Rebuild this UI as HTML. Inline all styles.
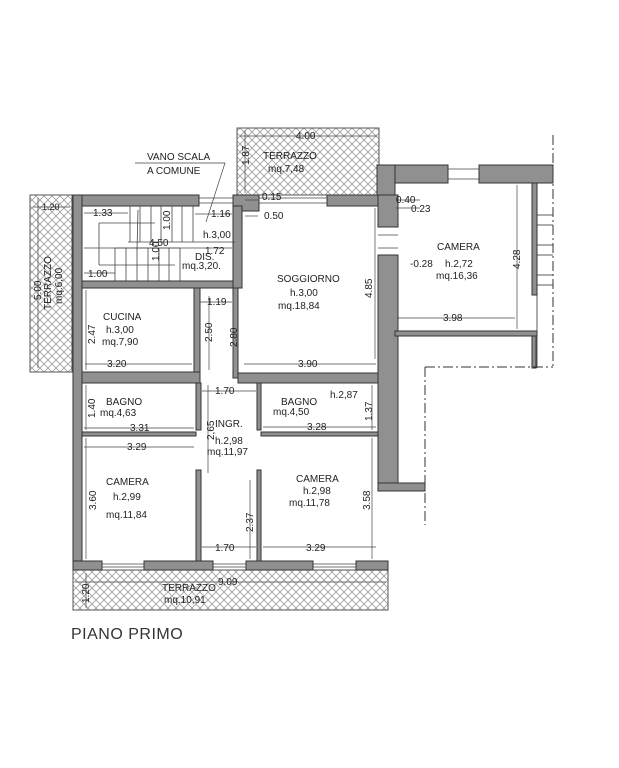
<!DOCTYPE html>
<html><head><meta charset="utf-8"><style>
html,body{margin:0;padding:0;background:#fff;}
svg{display:block;font-family:"Liberation Sans",sans-serif;}
.t{font-size:10px;fill:#222;}
.w{fill:#909090;stroke:#333;stroke-width:1;}
.d{stroke:#444;stroke-width:0.7;fill:none;}
.h{fill:url(#hb);stroke:#555;stroke-width:1;}
</style></head><body>
<svg width="619" height="768" viewBox="0 0 619 768" xmlns="http://www.w3.org/2000/svg">
<defs>
<pattern id="hb" width="8" height="8" patternUnits="userSpaceOnUse">
<path d="M0 8 L4 4 L0 0 M4 4 L8 8 M4 4 L8 0" stroke="#999" stroke-width="0.8" fill="none"/>
</pattern>
</defs>
<rect width="619" height="768" fill="#fff"/>
<rect class="h" x="237" y="128" width="142" height="67"/>
<rect class="h" x="30" y="195" width="42" height="177"/>
<rect class="h" x="73" y="570" width="315" height="40"/>
<rect class="w" x="73" y="195" width="126" height="11"/>
<rect class="w" x="233" y="195" width="26" height="16"/>
<rect class="w" x="327" y="195" width="52" height="11"/>
<rect class="w" x="73" y="195" width="9" height="375"/>
<rect class="w" x="378" y="195" width="20" height="32"/>
<rect class="w" x="378" y="255" width="20" height="235"/>
<rect class="w" x="377" y="165" width="18" height="30"/>
<rect class="w" x="73" y="561" width="29" height="9"/>
<rect class="w" x="144" y="561" width="69" height="9"/>
<rect class="w" x="246" y="561" width="67" height="9"/>
<rect class="w" x="356" y="561" width="32" height="9"/>
<rect class="w" x="378" y="483" width="47" height="8"/>
<g stroke="#444" stroke-width="0.8">
<line x1="199" y1="198" x2="233" y2="198"/><line x1="199" y1="203" x2="233" y2="203"/>
<line x1="259" y1="198" x2="327" y2="198"/><line x1="259" y1="203" x2="327" y2="203"/>
<line x1="102" y1="564" x2="144" y2="564"/><line x1="102" y1="567" x2="144" y2="567"/>
<line x1="213" y1="564" x2="246" y2="564"/><line x1="213" y1="567" x2="246" y2="567"/>
<line x1="313" y1="564" x2="356" y2="564"/><line x1="313" y1="567" x2="356" y2="567"/>
<line x1="448" y1="169" x2="479" y2="169"/><line x1="448" y1="179" x2="479" y2="179"/>
<line x1="378" y1="235" x2="398" y2="235"/><line x1="378" y1="248" x2="398" y2="248"/>
</g>
<rect class="w" x="82" y="281" width="160" height="7"/>
<rect class="w" x="233" y="206" width="9" height="82"/>
<rect class="w" x="233" y="288" width="5" height="90" />
<rect class="w" x="194" y="288" width="6" height="84"/>
<rect class="w" x="82" y="372" width="118" height="11"/>
<rect class="w" x="238" y="373" width="140" height="10"/>
<rect class="w" x="196" y="383" width="5" height="47"/>
<rect class="w" x="257" y="383" width="4" height="47"/>
<rect class="w" x="196" y="470" width="5" height="91"/>
<rect class="w" x="257" y="470" width="4" height="91"/>
<rect class="w" x="82" y="432" width="114" height="4"/>
<rect class="w" x="261" y="432" width="117" height="4"/>
<rect class="w" x="395" y="165" width="53" height="18"/>
<rect class="w" x="479" y="165" width="74" height="18"/>
<rect class="w" x="532" y="183" width="5" height="112"/>
<rect class="w" x="395" y="331" width="142" height="5"/>
<rect class="w" x="532" y="336" width="4" height="32"/>
<g stroke="#333" stroke-width="0.8">
<line x1="537" y1="215" x2="553" y2="215"/><line x1="537" y1="225" x2="553" y2="225"/>
<line x1="537" y1="245" x2="553" y2="245"/><line x1="537" y1="255" x2="553" y2="255"/>
<line x1="537" y1="275" x2="553" y2="275"/><line x1="537" y1="285" x2="553" y2="285"/>
<line x1="537" y1="183" x2="537" y2="368"/>
</g>
<g stroke="#333" stroke-width="1" stroke-dasharray="10,3,2,3" fill="none">
<line x1="553" y1="135" x2="553" y2="368"/>
<line x1="425" y1="367" x2="553" y2="367"/>
<line x1="425" y1="367" x2="425" y2="525"/>
</g>
<g stroke="#444" stroke-width="0.8">
<line x1="130" y1="206" x2="130" y2="242"/><line x1="140" y1="206" x2="140" y2="242"/>
<line x1="151" y1="206" x2="151" y2="242"/><line x1="161" y1="206" x2="161" y2="242"/>
<line x1="172" y1="206" x2="172" y2="242"/><line x1="182" y1="206" x2="182" y2="242"/>
<line x1="193" y1="206" x2="193" y2="242"/>
<line x1="128" y1="242" x2="235" y2="242"/>
<line x1="115" y1="248" x2="115" y2="281"/><line x1="126" y1="248" x2="126" y2="281"/>
<line x1="137" y1="248" x2="137" y2="281"/><line x1="148" y1="248" x2="148" y2="281"/>
<line x1="159" y1="248" x2="159" y2="281"/><line x1="169" y1="248" x2="169" y2="281"/>
<line x1="180" y1="248" x2="180" y2="281"/><line x1="115" y1="248" x2="180" y2="248"/>
<line x1="99" y1="223" x2="99" y2="265"/><line x1="99" y1="223" x2="155" y2="223"/>
<line x1="99" y1="265" x2="175" y2="265"/>
<line x1="137" y1="250" x2="138" y2="210"/>
</g>
<polyline class="d" points="135,163 225,163 206,222"/>
<g class="d">
<line x1="240" y1="136" x2="377" y2="136"/><line x1="245" y1="130" x2="245" y2="193"/>
<line x1="33" y1="207" x2="70" y2="207"/><line x1="38" y1="198" x2="38" y2="368"/>
<line x1="84" y1="213" x2="128" y2="213"/><line x1="195" y1="214" x2="232" y2="214"/>
<line x1="84" y1="273" x2="115" y2="273"/><line x1="84" y1="248" x2="232" y2="248"/>
<line x1="245" y1="216" x2="258" y2="216"/><line x1="245" y1="200" x2="258" y2="200"/>
<line x1="200" y1="302" x2="232" y2="302"/><line x1="209" y1="296" x2="209" y2="370"/>
<line x1="233" y1="296" x2="233" y2="370"/>
<line x1="244" y1="364" x2="376" y2="364"/><line x1="375" y1="208" x2="375" y2="359"/>
<line x1="85" y1="364" x2="192" y2="364"/><line x1="86" y1="290" x2="86" y2="370"/>
<line x1="202" y1="391" x2="256" y2="391"/>
<line x1="84" y1="428" x2="194" y2="428"/><line x1="84" y1="447" x2="194" y2="447"/>
<line x1="86" y1="385" x2="86" y2="430"/>
<line x1="263" y1="427" x2="376" y2="427"/><line x1="372" y1="385" x2="372" y2="430"/>
<line x1="208" y1="385" x2="208" y2="473"/>
<line x1="86" y1="438" x2="86" y2="559"/><line x1="372" y1="438" x2="372" y2="559"/>
<line x1="250" y1="480" x2="250" y2="559"/>
<line x1="202" y1="547" x2="256" y2="547"/><line x1="263" y1="547" x2="376" y2="547"/>
<line x1="75" y1="582" x2="386" y2="582"/><line x1="86" y1="573" x2="86" y2="608"/>
<line x1="397" y1="318" x2="515" y2="318"/><line x1="517" y1="185" x2="517" y2="329"/>
<line x1="396" y1="208" x2="420" y2="208"/><line x1="396" y1="200" x2="420" y2="200"/>
</g>
<g class="t">
<text x="147" y="160">VANO SCALA</text><text x="147" y="174">A COMUNE</text>
<text x="296" y="139">4.00</text>
<text x="263" y="159">TERRAZZO</text><text x="268" y="172">mq.7,48</text>
<text x="42" y="210" font-size="9">1.20</text>
<text x="93" y="216">1.33</text><text x="211" y="217">1.16</text>
<text x="203" y="238">h.3,00</text><text x="149" y="246">4.50</text>
<text x="205" y="254">1.72</text><text x="195" y="260">DIS.</text>
<text x="182" y="269">mq.3,20.</text><text x="88" y="277">1.00</text>
<text x="262" y="200">0.15</text><text x="264" y="219">0.50</text>
<text x="277" y="282">SOGGIORNO</text><text x="290" y="296">h.3,00</text><text x="278" y="309">mq.18,84</text>
<text x="298" y="367">3.90</text><text x="207" y="305">1.19</text>
<text x="103" y="320">CUCINA</text><text x="106" y="333">h.3,00</text><text x="102" y="345">mq.7,90</text>
<text x="107" y="367">3.20</text>
<text x="215" y="394">1.70</text>
<text x="106" y="405">BAGNO</text><text x="100" y="416">mq.4,63</text>
<text x="130" y="431">3.31</text><text x="127" y="450">3.29</text>
<text x="281" y="405">BAGNO</text><text x="330" y="398">h.2,87</text><text x="273" y="415">mq.4,50</text>
<text x="307" y="430">3.28</text>
<text x="215" y="427">INGR.</text><text x="215" y="444">h.2,98</text><text x="207" y="455">mq.11,97</text>
<text x="106" y="485">CAMERA</text><text x="113" y="500">h.2,99</text><text x="106" y="518">mq.11,84</text>
<text x="296" y="482">CAMERA</text><text x="303" y="494">h.2,98</text><text x="289" y="506">mq.11,78</text>
<text x="215" y="551">1.70</text><text x="306" y="551">3.29</text>
<text x="218" y="585">9.09</text>
<text x="162" y="591">TERRAZZO</text><text x="164" y="603">mq.10,91</text>
<text x="396" y="203">0.40</text><text x="411" y="212">0.23</text>
<text x="437" y="250">CAMERA</text><text x="410" y="267">-0.28</text>
<text x="445" y="267">h.2,72</text><text x="436" y="279">mq.16,36</text>
<text x="443" y="321">3.98</text>
</g>
<g class="t">
<text transform="translate(249,165) rotate(-90)">1.87</text>
<text transform="translate(41,300) rotate(-90)">5.00</text>
<text transform="translate(51,310) rotate(-90)">TERRAZZO</text>
<text transform="translate(62,304) rotate(-90)">mq.6,00</text>
<text transform="translate(170,230) rotate(-90)">1.00</text>
<text transform="translate(159,261) rotate(-90)">1.00</text>
<text transform="translate(212,342) rotate(-90)">2.50</text>
<text transform="translate(237,347) rotate(-90)">2.80</text>
<text transform="translate(372,298) rotate(-90)">4.85</text>
<text transform="translate(95,344) rotate(-90)">2.47</text>
<text transform="translate(95,418) rotate(-90)">1.40</text>
<text transform="translate(372,421) rotate(-90)">1.37</text>
<text transform="translate(214,440) rotate(-90)">2,65</text>
<text transform="translate(96,510) rotate(-90)">3.60</text>
<text transform="translate(370,510) rotate(-90)">3.58</text>
<text transform="translate(253,532) rotate(-90)">2.37</text>
<text transform="translate(89,603) rotate(-90)">1.20</text>
<text transform="translate(520,269) rotate(-90)">4.28</text>
</g>
<text x="71" y="639" font-size="16" fill="#333" letter-spacing="0.5">PIANO  PRIMO</text>
</svg>
</body></html>
